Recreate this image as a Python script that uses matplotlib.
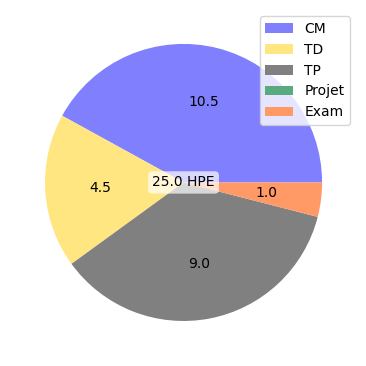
import matplotlib
matplotlib.use("Agg")
import matplotlib.pyplot as plt

labels = ["CM", "TD", "TP", "Projet", "Exam"]
hours = [10.5, 4.5, 9.0, 0.0, 1.0]
colors = ["#8080ff", "#ffe680", "#808080", "#5aaa80", "#ff9966"]

total = sum(hours)


def fmt(pct):
    val = pct * total / 100
    return f"{val:.1f}" if val > 0 else ""


fig = plt.figure(figsize=(3.66, 3.66), dpi=100)
ax = fig.add_axes([0.123, 0.123, 0.757, 0.757])
wedges, texts, autotexts = ax.pie(hours, colors=colors, autopct=fmt, startangle=0,
                                  counterclock=True, pctdistance=0.6)
ax.set_xlim(-1, 1)
ax.set_ylim(-1, 1)
ax.set_aspect("equal")
ax.axis("off")

ax.text(0, 0, f"{total:.1f} HPE", ha="center", va="center", fontsize=10,
        bbox=dict(boxstyle="round", facecolor="white", edgecolor="none", alpha=0.7))

fig.legend(wedges, labels, loc="upper right", bbox_to_anchor=(0.975, 0.975))

fig.savefig("out.png", dpi=100)
